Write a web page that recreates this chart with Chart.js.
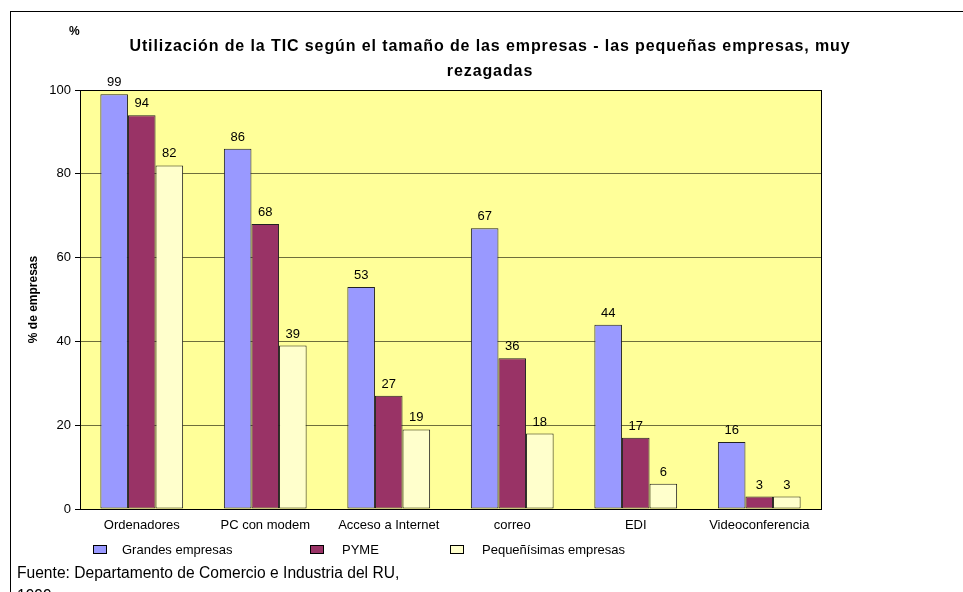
<!DOCTYPE html>
<html lang="es">
<head>
<meta charset="UTF-8" />
<title>Utilización de la TIC</title>
<script src="https://cdn.jsdelivr.net/npm/chart.js"></script>
<style>
    body { margin: 0; background: #fff; font-family: "Liberation Sans", Arial, sans-serif; }
    .wrap { position: relative; width: 963px; height: 592px; overflow: hidden; }
    .frame { position: absolute; left: 10px; top: 11px; width: 1000px; height: 700px; border: 1px solid #000; box-sizing: border-box; }
    canvas { position: absolute; left: 0; top: 0; }
    .title { position: absolute; left: 90px; width: 800px; top: 33px; text-align: center; font-weight: bold; font-size: 16px; line-height: 25px; letter-spacing: 0.9px; color: #000; }
    .pct { position: absolute; left: 69px; top: 24px; font-weight: bold; font-size: 12px; }
    .legend { position: absolute; top: 542px; left: 0; font-size: 13px; }
    .legend span { position: absolute; white-space: nowrap; }
    .legend i { position: absolute; width: 14px; height: 9px; border: 1px solid #000; top: 3px; box-sizing: border-box; }
    .foot { position: absolute; left: 17px; top: 561px; font-size: 15.6px; line-height: 23px; }
</style>
</head>
<body>
<div class="wrap">
    <div class="frame"></div>
    <canvas id="chart" width="963" height="592"></canvas>
    <div class="title">Utilización de la TIC según el tamaño de las empresas - las pequeñas empresas, muy<br>rezagadas</div>
    <div class="pct">%</div>
    <div class="legend" id="legend"></div>
    <div class="foot">Fuente: Departamento de Comercio e Industria del RU,<br>1999</div>
</div>

<script>
    // data
    const categories = ["Ordenadores", "PC con modem", "Acceso a Internet", "correo", "EDI", "Videoconferencia"];
    const seriesNames = ["Grandes empresas", "PYME", "Pequeñísimas empresas"];
    const grandes = [99, 86, 53, 67, 44, 16];
    const pyme = [94, 68, 27, 36, 17, 3];
    const pequenas = [82, 39, 19, 18, 6, 3];
    const yTicks = [0, 20, 40, 60, 80, 100];

    const colors = ["#9999FF", "#993366", "#FFFFCC"];
    const FONT = "'Liberation Sans', Arial, sans-serif";

    // legend (html)
    const legendPos = [[93, 122], [310, 342], [450, 482]];
    const legendEl = document.getElementById("legend");
    seriesNames.forEach((name, i) => {
        const box = document.createElement("i");
        box.style.left = legendPos[i][0] + "px";
        box.style.background = colors[i];
        legendEl.appendChild(box);
        const txt = document.createElement("span");
        txt.style.left = legendPos[i][1] + "px";
        txt.textContent = name;
        legendEl.appendChild(txt);
    });

    // yellow plot area + black frame
    const plotArea = {
        id: "plotArea",
        beforeDraw(chart) {
            const { ctx, chartArea: a } = chart;
            ctx.save();
            ctx.fillStyle = "#FFFF99";
            ctx.fillRect(a.left, a.top, a.right - a.left, a.bottom - a.top);
            ctx.restore();
        },
        afterDraw(chart) {
            const { ctx, chartArea: a } = chart;
            ctx.save();
            ctx.strokeStyle = "#000";
            ctx.lineWidth = 1;
            ctx.strokeRect(Math.round(a.left) + 0.5, Math.round(a.top) + 0.5, Math.round(a.right - a.left), Math.round(a.bottom - a.top));
            ctx.restore();
        }
    };

    // value labels above bars
    const valueLabels = {
        id: "valueLabels",
        afterDatasetsDraw(chart) {
            const ctx = chart.ctx;
            ctx.save();
            ctx.font = "13px " + FONT;
            ctx.fillStyle = "#000";
            ctx.textAlign = "center";
            ctx.textBaseline = "bottom";
            chart.data.datasets.forEach((ds, i) => {
                chart.getDatasetMeta(i).data.forEach((bar, j) => {
                    ctx.fillText(ds.data[j], bar.x, bar.y - 5);
                });
            });
            ctx.restore();
        }
    };

    new Chart(document.getElementById("chart"), {
        type: "bar",
        data: {
            labels: categories,
            datasets: [
                { label: seriesNames[0], data: grandes, backgroundColor: colors[0] },
                { label: seriesNames[1], data: pyme, backgroundColor: colors[1] },
                { label: seriesNames[2], data: pequenas, backgroundColor: colors[2] },
            ].map(d => Object.assign(d, {
                borderColor: "#222",
                borderWidth: 1,
                borderSkipped: false,
                categoryPercentage: 0.67,
                barPercentage: 1,
            })),
        },
        options: {
            responsive: false,
            animation: false,
            layout: { padding: { left: 26, top: 90, right: 142, bottom: 53 } },
            plugins: {
                legend: { display: false },
                tooltip: { enabled: false },
            },
            scales: {
                x: {
                    afterFit(scale) { scale.height = 30; },
                    grid: { display: false },
                    border: { color: "#000" },
                    ticks: {
                        color: "#000",
                        maxRotation: 0,
                        autoSkip: false,
                        padding: 1,
                        font: { family: FONT, size: 13 },
                    },
                },
                y: {
                    min: 0,
                    max: 100,
                    afterFit(scale) { scale.width = 80 - 26; },
                    afterBuildTicks(scale) { scale.ticks = yTicks.map(v => ({ value: v })); },
                    grid: { color: "#6e6e3c", tickColor: "#000", tickLength: 5 },
                    border: { color: "#000" },
                    title: {
                        display: true,
                        text: "% de empresas",
                        color: "#000",
                        padding: { top: 0, bottom: 0 },
                        font: { family: FONT, size: 12, weight: "bold" },
                    },
                    ticks: {
                        color: "#000",
                        padding: 4,
                        font: { family: FONT, size: 13 },
                    },
                },
            },
        },
        plugins: [plotArea, valueLabels],
    });
</script>
</body>
</html>
